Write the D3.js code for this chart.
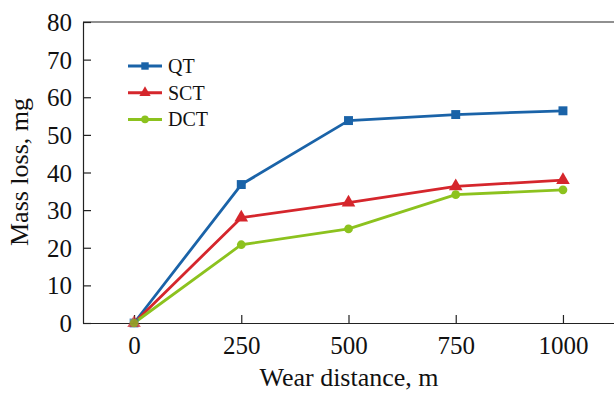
<!DOCTYPE html>
<html>
<head>
<meta charset="utf-8">
<script src="https://cdn.jsdelivr.net/npm/d3@7"></script>
<style>
  body { margin: 0; background: #fff; }
  text { font-family: "Liberation Serif", "Times New Roman", serif; fill: #111; }
</style>
</head>
<body>
<script>
// data
const distances = [0, 250, 500, 750, 1000];
const qtLoss  = [0, 36.8, 53.8, 55.4, 56.4];
const sctLoss = [0, 28.0, 32.0, 36.3, 38.0];
const dctLoss = [0, 20.8, 25.0, 34.1, 35.4];
const seriesNames = ['QT', 'SCT', 'DCT'];
const yTicks = [0, 10, 20, 30, 40, 50, 60, 70, 80];

const series = [
  { name: seriesNames[0], values: qtLoss,  color: '#1a63a8', shape: d3.symbolSquare },
  { name: seriesNames[1], values: sctLoss, color: '#d5262c', shape: d3.symbolTriangle },
  { name: seriesNames[2], values: dctLoss, color: '#8cc21e', shape: d3.symbolCircle }
];

const W = 614, H = 393;
const plot = { left: 83, top: 22, right: 614, bottom: 323 };

const svg = d3.select('body').append('svg')
  .attr('width', W)
  .attr('height', H);

const x = d3.scaleLinear().domain([-119, 1119]).range([plot.left, plot.right]);
const y = d3.scaleLinear().domain([0, 80]).range([plot.bottom, plot.top]);

// top frame line (right side stays open)
svg.append('line')
  .attr('x1', plot.left).attr('x2', plot.right)
  .attr('y1', plot.top).attr('y2', plot.top)
  .attr('stroke', '#222').attr('stroke-width', 1.2);

// axes, ticks pointing inward
const xAxis = svg.append('g')
  .attr('transform', `translate(0,${plot.bottom})`)
  .call(d3.axisBottom(x).tickValues(distances).tickFormat(d3.format('d'))
    .tickSizeInner(-8).tickSizeOuter(0).tickPadding(13));

const yAxis = svg.append('g')
  .attr('transform', `translate(${plot.left},0)`)
  .call(d3.axisLeft(y).tickValues(yTicks).tickFormat(d3.format('d'))
    .tickSizeInner(-8).tickSizeOuter(0).tickPadding(11));

[xAxis, yAxis].forEach(g => {
  g.select('.domain').attr('stroke', '#222').attr('stroke-width', 1.2);
  g.selectAll('.tick line').attr('stroke', '#222').attr('stroke-width', 1.2);
  g.selectAll('.tick text')
    .style('font-family', '"Liberation Serif", "Times New Roman", serif')
    .style('font-size', '25px')
    .attr('fill', '#111');
});
yAxis.selectAll('.tick text').attr('dy', '0.34em');

// axis titles
svg.append('text')
  .attr('x', 349)
  .attr('y', 386)
  .attr('text-anchor', 'middle')
  .style('font-size', '26px')
  .text('Wear distance, m');

svg.append('text')
  .attr('transform', 'translate(28,172) rotate(-90)')
  .attr('text-anchor', 'middle')
  .style('font-size', '26px')
  .text('Mass loss, mg');

// lines
const line = d3.line()
  .x((d, i) => x(distances[i]))
  .y(d => y(d));

series.forEach(s => {
  svg.append('path')
    .datum(s.values)
    .attr('d', line)
    .attr('fill', 'none')
    .attr('stroke', s.color)
    .attr('stroke-width', 2.8)
    .attr('stroke-linejoin', 'round');
});

// markers
series.forEach(s => {
  const sym = d3.symbol().type(s.shape).size(s.shape === d3.symbolCircle ? 60 : 80);
  svg.append('g').selectAll('path')
    .data(s.values)
    .enter().append('path')
    .attr('d', sym)
    .attr('transform', (d, i) => `translate(${x(distances[i])},${y(d)})`)
    .attr('fill', s.color)
    .attr('opacity', (d, i) => i === 0 ? 0.7 : 1);
});

// legend
const legend = svg.append('g').attr('transform', 'translate(128,66)');
series.forEach((s, i) => {
  const g = legend.append('g').attr('transform', `translate(0,${i * 26.7})`);
  g.append('line')
    .attr('x1', 0).attr('x2', 34)
    .attr('stroke', s.color).attr('stroke-width', 3);
  g.append('path')
    .attr('d', d3.symbol().type(s.shape).size(s.shape === d3.symbolCircle ? 45 : 55))
    .attr('transform', 'translate(17,0)')
    .attr('fill', s.color);
  g.append('text')
    .attr('x', 40)
    .attr('y', 7)
    .style('font-size', '20px')
    .text(s.name);
});
</script>
</body>
</html>
